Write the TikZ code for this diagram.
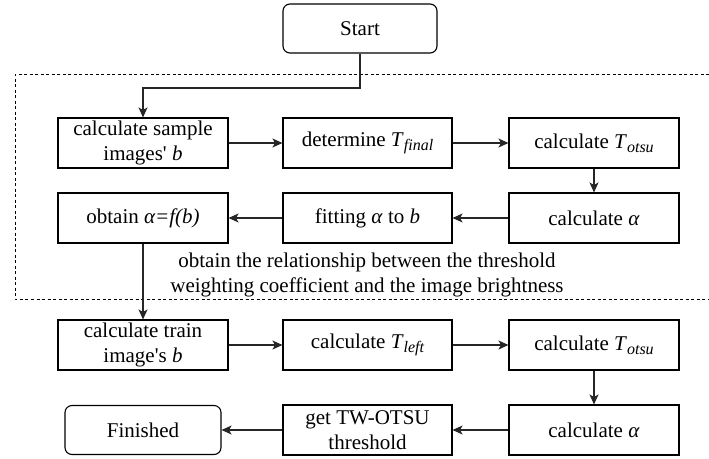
\documentclass[tikz,border=0pt]{standalone}
\usepackage{fontspec}
\setmainfont{Liberation Serif}
\usetikzlibrary{arrows.meta}
\newcommand\subtxt[1]{\raisebox{-0.4ex}{\fontsize{16}{16}\selectfont\itshape #1}}
\begin{document}
\begin{tikzpicture}[x=1pt,y=-1pt,
  box/.style={draw, line width=1.1pt, minimum width=170pt, minimum height=50pt, inner sep=0pt, align=center, font=\fontsize{21}{25}\selectfont},
  rbox/.style={box, rounded corners=7pt},
  arr/.style={line width=1.1pt, draw=black!85, -{Stealth[length=10pt,width=9pt,inset=2.5pt]}},
  grp/.style={line width=0.9pt, dash pattern=on 3pt off 2.5pt},
  lbl/.style={align=center, inner sep=0pt, font=\fontsize{21}{25}\selectfont}
]
\useasboundingbox (0,0) rectangle (709,458);
% dashed group frame
\coordinate (g1) at (709,74);
\coordinate (g2) at (15,74);
\coordinate (g3) at (15,299);
\coordinate (g4) at (709,299);
\draw[grp] (g1) -- (g2) -- (g3) -- (g4);

\node[rbox, minimum width=154pt, minimum height=49pt] (start) at (360,28.5) {Start};

\node[box] (a1) at (143,143) {calculate sample\\images\textquotesingle{} \textit{b}};
\node[box, minimum width=169pt] (a2) at (367.5,143) {determine \textit{T}\subtxt{final}};
\node[box] (a3) at (594,143) {calculate \textit{T}\subtxt{otsu}};

\node[box] (b1) at (143,218) {obtain \textit{α=f(b)}};
\node[box, minimum width=169pt] (b2) at (367.5,218) {fitting \textit{α} to \textit{b}};
\node[box] (b3) at (594,218) {calculate \textit{α}};

\node[lbl] (note) at (367,274.5) {obtain the relationship between the threshold\\weighting coefficient and the image brightness};

\node[box] (c1) at (143,345) {calculate train\\image\textquotesingle{}s \textit{b}};
\node[box, minimum width=169pt] (c2) at (367.5,345) {calculate \textit{T}\subtxt{left}};
\node[box] (c3) at (594,345) {calculate \textit{T}\subtxt{otsu}};

\node[rbox, minimum width=156pt, minimum height=49pt] (fin) at (143,430) {Finished};
\node[box, minimum width=169pt] (d2) at (367.5,430) {get TW-OTSU\\threshold};
\node[box] (d3) at (594,430) {calculate \textit{α}};

\draw[arr] (start.south) |- (143,88) -- (a1.north);
\draw[arr] (a1) -- (a2);
\draw[arr] (a2) -- (a3);
\draw[arr] (a3) -- (b3);
\draw[arr] (b3) -- (b2);
\draw[arr] (b2) -- (b1);
\draw[arr] (b1) -- (c1);
\draw[arr] (c1) -- (c2);
\draw[arr] (c2) -- (c3);
\draw[arr] (c3) -- (d3);
\draw[arr] (d3) -- (d2);
\draw[arr] (d2) -- (fin);
\end{tikzpicture}
\end{document}
